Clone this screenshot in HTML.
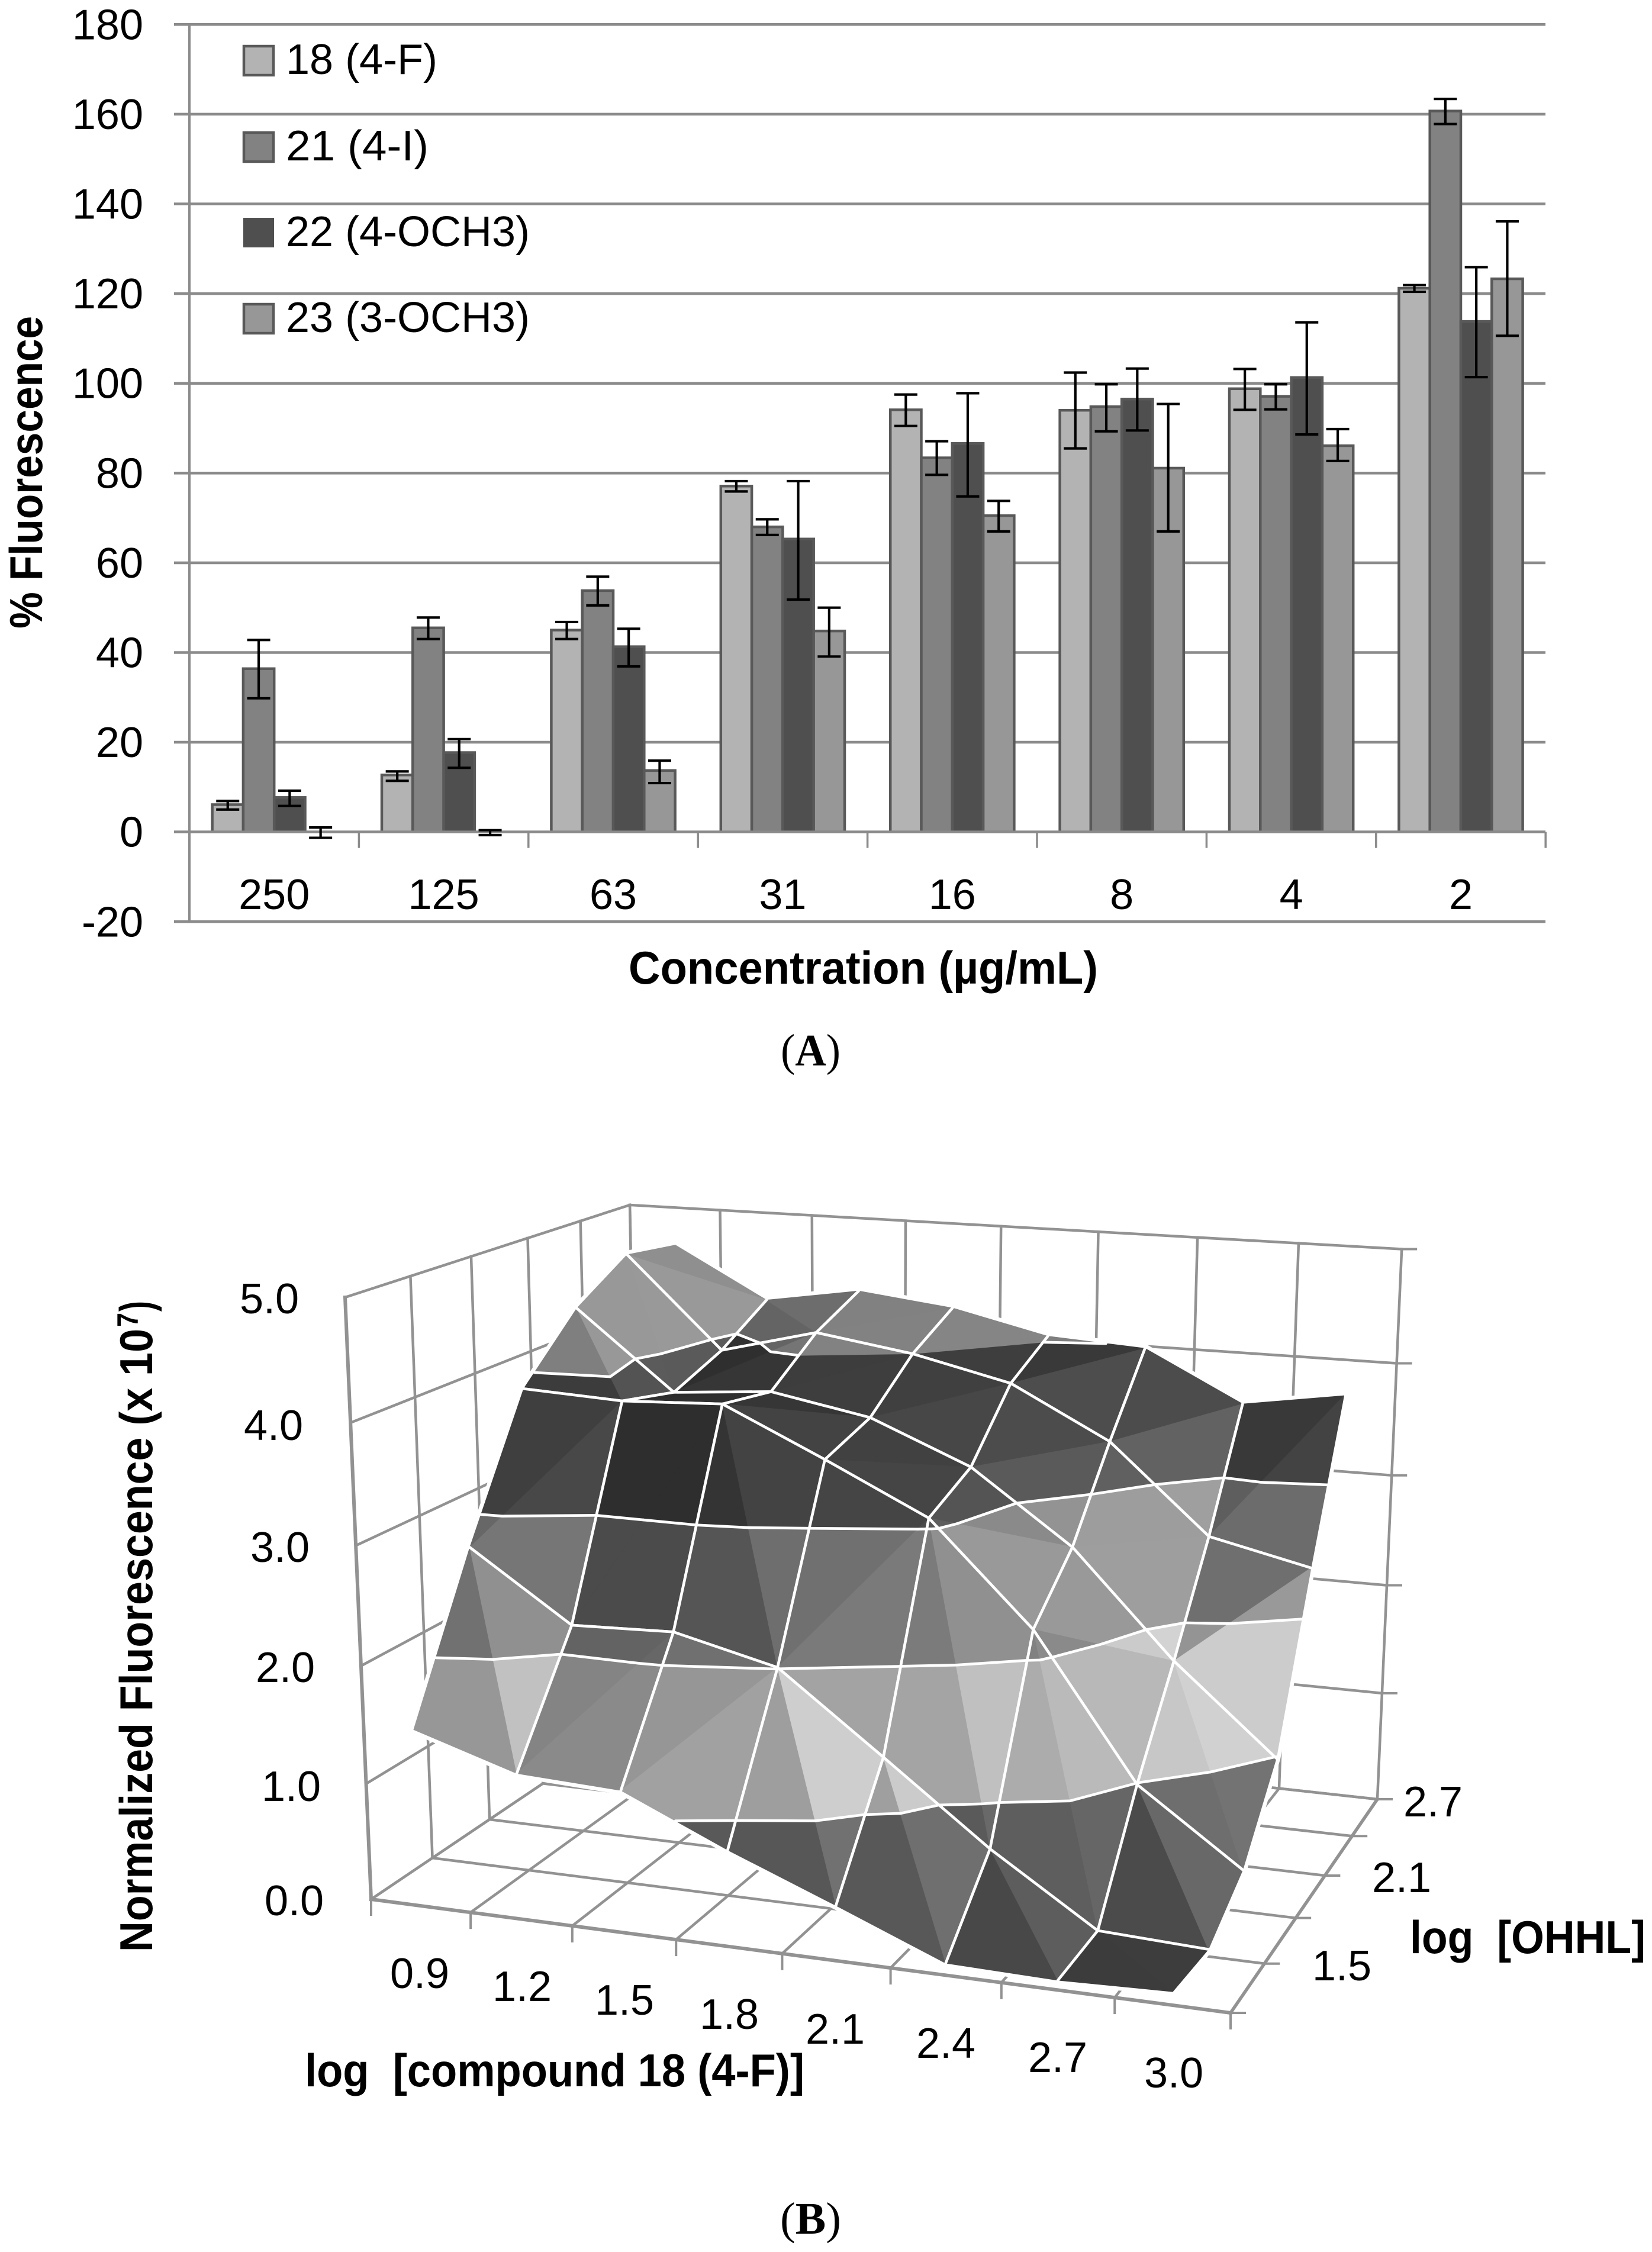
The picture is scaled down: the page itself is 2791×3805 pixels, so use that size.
<!DOCTYPE html>
<html lang="en">
<head>
<meta charset="utf-8">
<title>Fluorescence charts</title>
<style>
html,body{margin:0;padding:0;background:#fff;}
svg{display:block;}
text{font-family:"Liberation Sans",sans-serif;fill:#000;}
.t{font-size:72px;}
.b{font-size:78px;font-weight:bold;}
.s{font-family:"Liberation Serif",serif;font-size:76px;}
</style>
</head>
<body>
<svg id="fig" xmlns="http://www.w3.org/2000/svg" width="2791" height="3805" viewBox="0 0 2791 3805">
  <rect width="2791" height="3805" fill="#fff"/>
  <g id="barChart"></g>
  <g>
    <rect x="412" y="78" width="50" height="49" fill="#b3b3b3" stroke="#595959" stroke-width="4.5"/>
    <text class="t" x="483" y="125" textLength="256" lengthAdjust="spacingAndGlyphs">18 (4-F)</text>
    <rect x="412" y="224" width="50" height="49" fill="#828282" stroke="#595959" stroke-width="4.5"/>
    <text class="t" x="483" y="271" textLength="241" lengthAdjust="spacingAndGlyphs">21 (4-I)</text>
    <rect x="412" y="369" width="50" height="48" fill="#4f4f4f" stroke="#4f4f4f" stroke-width="2"/>
    <text class="t" x="483" y="416" textLength="412" lengthAdjust="spacingAndGlyphs">22 (4-OCH3)</text>
    <rect x="412" y="514" width="50" height="49" fill="#979797" stroke="#595959" stroke-width="4.5"/>
    <text class="t" x="483" y="561" textLength="412" lengthAdjust="spacingAndGlyphs">23 (3-OCH3)</text>
  </g>
  <text class="b" transform="translate(71,1062) rotate(-90)" textLength="528" lengthAdjust="spacingAndGlyphs">% Fluorescence</text>
  <text class="b" x="1062" y="1662" textLength="793" lengthAdjust="spacingAndGlyphs">Concentration (µg/mL)</text>
  <text class="s" x="1319" y="1800" textLength="101" lengthAdjust="spacingAndGlyphs">(<tspan font-weight="bold">A</tspan>)</text>

  <g id="surfaceChart"></g>

  <g>
    <text class="t" x="405" y="2219">5.0</text>
    <text class="t" x="412" y="2433">4.0</text>
    <text class="t" x="423" y="2639">3.0</text>
    <text class="t" x="432" y="2842">2.0</text>
    <text class="t" x="442" y="3043">1.0</text>
    <text class="t" x="447" y="3236">0.0</text>
  </g>
  <text class="b" transform="translate(257,3298) rotate(-90)" textLength="1053" lengthAdjust="spacingAndGlyphs">Normalized Fluorescence (x 10</text>
  <text class="b" style="font-size:50px" transform="translate(233,2242) rotate(-90)" textLength="24" lengthAdjust="spacingAndGlyphs">7</text>
  <text class="b" transform="translate(257,2216) rotate(-90)" textLength="18" lengthAdjust="spacingAndGlyphs">)</text>

  <g>
    <text class="t" x="659" y="3359">0.9</text>
    <text class="t" x="832" y="3381">1.2</text>
    <text class="t" x="1005" y="3404">1.5</text>
    <text class="t" x="1182" y="3428">1.8</text>
    <text class="t" x="1361" y="3453">2.1</text>
    <text class="t" x="1548" y="3477">2.4</text>
    <text class="t" x="1737" y="3501">2.7</text>
    <text class="t" x="1933" y="3527">3.0</text>
  </g>
  <g>
    <text class="t" x="2217" y="3346">1.5</text>
    <text class="t" x="2318" y="3197">2.1</text>
    <text class="t" x="2371" y="3069">2.7</text>
  </g>
  <text class="b" x="515" y="3525" textLength="844" lengthAdjust="spacingAndGlyphs">log&#160; [compound 18 (4-F)]</text>
  <text class="b" x="2382" y="3300" textLength="398" lengthAdjust="spacingAndGlyphs">log&#160; [OHHL]</text>
  <text class="s" x="1318" y="3774" textLength="103" lengthAdjust="spacingAndGlyphs">(<tspan font-weight="bold">B</tspan>)</text>
</svg>

<script>
// ---------- Chart A data ----------
const concentrations = ['250','125','63','31','16','8','4','2'];
const yTicks = [180,160,140,120,100,80,60,40,20,0,-20];
const seriesNames = ['18-4-f','21-4-i','22-4-och3','23-3-och3'];
const seriesFills = ['#b3b3b3','#828282','#4f4f4f','#979797'];
const values18 = [6.1,12.7,45,77.1,94.1,94.0,98.8,121.2];
const upper18  = [6.9,13.5,46.8,78.2,97.5,102.4,103.2,121.9];
const lower18  = [5,11.4,43,75.9,90.5,85.5,94.1,120.4];
const values21 = [36.4,45.5,53.8,68,83.4,94.8,97.1,160.7];
const upper21  = [42.8,47.8,56.9,69.7,87.1,99.8,99.8,163.4];
const lower21  = [29.8,43,50.5,66.2,79.6,89.3,94.2,157.8];
const values22 = [7.7,17.7,41.3,65.3,86.6,96.5,101.3,113.8];
const upper22  = [9.2,20.7,45.3,78.2,97.8,103.3,113.6,125.9];
const lower22  = [5.8,14.3,36.9,51.8,74.8,89.5,88.6,101.4];
const values23 = [0,0,13.7,44.8,70.5,81.1,86.1,123.3];
const upper23  = [1,0.4,15.9,50,73.8,95.4,89.8,136.1];
const lower23  = [-1.3,-0.7,10.9,39.1,67,67,82.7,110.6];

// ---------- Chart B data: fluorescence (x 10^7); rows front (log OHHL 1.2) to back (2.7), columns log compound 0.9 to 3.0 ----------
const surfaceRow12 = [1.51,1.24,1.20,0.81,0.46,0.10,0.08,0.11];
const surfaceRow15 = [2.77,2.19,2.22,2.01,1.35,0.68,0.10,0.06];
const surfaceRow18 = [3.90,3.86,3.90,3.50,3.08,2.22,0.99,0.36];
const surfaceRow21 = [4.41,3.73,3.80,3.64,3.28,2.66,1.75,0.99];
const surfaceRow24 = [4.72,3.91,4.13,4.00,3.80,3.35,2.58,2.38];
const surfaceRow27 = [4.65,4.19,4.33,4.23,4.03,3.98,3.54,3.68];

const NS = 'http://www.w3.org/2000/svg';
function mk(tag, attrs, parent){
  const el = document.createElementNS(NS, tag);
  for (const k in attrs) el.setAttribute(k, attrs[k]);
  parent.appendChild(el);
  return el;
}

// ---------- Chart A ----------
(function(){
  const g = document.getElementById('barChart');
  const gridColor = '#8b8b8b';
  const yScale = v => 41.3 + (180 - v) * 7.58;
  const catWidth = 286.4, plotLeft = 320, plotRight = 2611;
  const barWidth = 52.3;
  const catX = i => plotLeft + catWidth * i;

  yTicks.forEach(t => {
    const line = mk('line', {x1:294, x2:plotRight, y1:yScale(t), y2:yScale(t), stroke:gridColor, 'stroke-width':4.6}, g);
    
    
    const label = mk('text', {x:242, y:yScale(t)+25, 'text-anchor':'end', 'class':'t'}, g);
    
    
    label.textContent = t;
  });
  const axis = mk('line', {x1:plotLeft, x2:plotLeft, y1:yScale(180), y2:yScale(-20), stroke:gridColor, 'stroke-width':4}, g);
  
  

  for (let i = 1; i <= concentrations.length; i++) {
    const tick = mk('line', {x1:catX(i), x2:catX(i), y1:yScale(0), y2:yScale(0)+27, stroke:gridColor, 'stroke-width':3.5}, g);
    
    
  }

  const seriesValues = [values18, values21, values22, values23];
  const seriesUpper = [upper18, upper21, upper22, upper23];
  const seriesLower = [lower18, lower21, lower22, lower23];

  concentrations.forEach((c, i) => {
    const label = mk('text', {x:catX(i)+catWidth/2, y:1536, 'text-anchor':'middle', 'class':'t'}, g);
    
    
    label.textContent = c;
    const start = catX(i) + (catWidth - barWidth*4) / 2;
    seriesValues.forEach((vals, s) => {
      const y = yScale(vals[i]);
      const bar = mk('rect', {x:start+s*barWidth, y:y, width:barWidth, height:Math.max(0, yScale(0)-y), fill:seriesFills[s], stroke:'#595959', 'stroke-width':4.5}, g);
      
      
    });
  });
  const zero = mk('line', {x1:294, x2:plotRight, y1:yScale(0), y2:yScale(0), stroke:gridColor, 'stroke-width':4.6}, g);
  
  

  concentrations.forEach((c, i) => {
    const start = catX(i) + (catWidth - barWidth*4) / 2;
    seriesValues.forEach((vals, s) => {
      const cx = start + (s+0.5)*barWidth;
      const top = yScale(seriesUpper[s][i]), bot = yScale(seriesLower[s][i]);
      const err = mk('path', {d:`M${cx-19.5} ${top}H${cx+19.5}M${cx} ${top}V${bot}M${cx-19.5} ${bot}H${cx+19.5}`, fill:'none', stroke:'#000', 'stroke-width':4.2}, g);
      
      
    });
  });
})();

// ---------- Chart B ----------
(function(){
  const g = document.getElementById('surfaceChart');
  const rows = [surfaceRow12, surfaceRow15, surfaceRow18, surfaceRow21, surfaceRow24, surfaceRow27];
  const nCols = surfaceRow12.length, nRows = rows.length;
  const gridColor = '#929292';

  // perspective axis function: u in [0,8], v in [0,5], z in [0,5]
  function proj(u, v, z){
    const U = u/8, V = v/5, Z = z/5;
    const w = 1 - 0.08332*U + 0.18191*V - 0.05*Z;
    return [(627 + 1278.8*U + 650.6*V - 73.15*Z)/w,
            (3209 - 91.4*U + 222.1*V - 1126.6*Z)/w];
  }
  function wallLine(a, b, width, name){
    const p = proj(a[0],a[1],a[2]), q = proj(b[0],b[1],b[2]);
    const l = mk('line', {x1:p[0], y1:p[1], x2:q[0], y2:q[1], stroke:gridColor, 'stroke-width':width, 'stroke-linecap':'square'}, g);
    
    
  }
  for (let z = 0; z <= 5; z++) {
    wallLine([0,0,z],[0,5,z],4.5,'left-wall-gridline');
    wallLine([0,5,z],[8,5,z],4.5,'back-wall-gridline');
  }
  for (let v = 0; v <= 5; v++) {
    wallLine([0,v,0],[0,v,5],v===0?6:4.5,'left-wall-vertical');
    wallLine([0,v,0],[8,v,0],v===0?6:4.5,'floor-gridline');
  }
  for (let u = 0; u <= 8; u++) {
    wallLine([u,5,0],[u,5,5],4.5,'back-wall-vertical');
    wallLine([u,0,0],[u,5,0],u===8?5.5:4.5,'floor-gridline');
    const p = proj(u,0,0);
    const t = mk('line', {x1:p[0], x2:p[0], y1:p[1], y2:p[1]+28, stroke:gridColor, 'stroke-width':4}, g);
    
    
  }
  for (let v = 0; v <= 5; v++) {
    const p = proj(8,v,0);
    const t = mk('line', {x1:p[0], x2:p[0]+26, y1:p[1], y2:p[1], stroke:gridColor, 'stroke-width':4}, g);
    
    
  }
  for (let z = 1; z <= 5; z++) {
    const p = proj(8,5,z);
    const t = mk('line', {x1:p[0], x2:p[0]+26, y1:p[1], y2:p[1], stroke:gridColor, 'stroke-width':4}, g);
    
    
  }

  const node = (j,i) => [i+0.5, j, rows[j][i]];
  const P = n => proj(n[0],n[1],n[2]);
  const pts = poly => poly.map(n => { const p = P(n); return p[0].toFixed(1)+','+p[1].toFixed(1); }).join(' ');

  function trianglesOf(j,i){
    const a=node(j,i), b=node(j,i+1), c=node(j+1,i+1), d=node(j+1,i);
    // diagonal joins the corner pair with the larger sum
    if (a[2]+c[2] >= b[2]+d[2]) return [[a,d,c],[a,b,c]];
    return [[a,b,d],[b,c,d]];
  }

  // white halo behind the surface
  let halo = '';
  for (let j=0;j<nRows-1;j++) for (let i=0;i<nCols-1;i++)
    trianglesOf(j,i).forEach(t => { halo += 'M'+pts(t).replace(/ /g,'L')+'Z'; });
  const haloEl = mk('path', {d:halo, fill:'#fff', stroke:'#fff', 'stroke-width':14, 'stroke-linejoin':'round'}, g);
  
  

  function clip(poly, f){
    const out = [];
    for (let k=0;k<poly.length;k++){
      const a = poly[k], b = poly[(k+1)%poly.length];
      const fa = f(a), fb = f(b);
      if (fa >= 0) out.push(a);
      if ((fa >= 0) !== (fb >= 0)) {
        const t = fa/(fa-fb);
        out.push([a[0]+(b[0]-a[0])*t, a[1]+(b[1]-a[1])*t, a[2]+(b[2]-a[2])*t]);
      }
    }
    return out;
  }
  const bandFactor = [0.55, 1, 0.75, 0.46];
  function shade(tri, band){
    const e1 = [tri[1][0]-tri[0][0], tri[1][1]-tri[0][1], tri[1][2]-tri[0][2]];
    const e2 = [tri[2][0]-tri[0][0], tri[2][1]-tri[0][1], tri[2][2]-tri[0][2]];
    const nx = e1[1]*e2[2]-e1[2]*e2[1], ny = e1[2]*e2[0]-e1[0]*e2[2], nz = e1[0]*e2[1]-e1[1]*e2[0];
    const x = nx/nz, y = -ny/nz;
    let c;
    if (band === 4) {
      c = x < 0 ? 125 + 115*x : 125 + 40*Math.min(x,0.7);
    } else {
      let I;
      if (x <= 0.4) I = 135 + 70*x;
      else if (x <= 0.7) I = 163 + (x-0.4)*167;
      else if (x <= 0.9) I = 213;
      else I = 213 - (x-0.9)*80;
      if (y > 1.1) I -= 110*(y-1.1)*(y-1.1);
      else I -= 20*(y-1.1)*(y-1.1);
      I = Math.max(100, Math.min(220, I));
      c = I*bandFactor[band];
    }
    c = Math.round(c);
    return 'rgb('+c+','+c+','+c+')';
  }
  function whiteLine(a, b, name){
    const p = P(a), q = P(b);
    const l = mk('line', {x1:p[0], y1:p[1], x2:q[0], y2:q[1], stroke:'#fff', 'stroke-width':4.6, 'stroke-linecap':'round'}, g);
    
    
  }

  for (let j=nRows-2;j>=0;j--) {
    for (let i=0;i<nCols-1;i++) {
      const tris = trianglesOf(j,i);
      tris.forEach(tri => {
        for (let band=0;band<5;band++){
          let poly = clip(tri, n => n[2]-band);
          if (poly.length>=3) poly = clip(poly, n => (band+1)-n[2]);
          if (poly.length<3) continue;
          const col = shade(tri, band);
          const f = mk('polygon', {points:pts(poly), fill:col, stroke:col, 'stroke-width':1, 'stroke-linejoin':'round'}, g);
          
          
        }
      });
      tris.forEach(tri => {
        for (let level=1;level<=4;level++){
          const hits = [];
          for (let k=0;k<3;k++){
            const a=tri[k], b=tri[(k+1)%3];
            if ((a[2]-level)*(b[2]-level) < 0){
              const t=(level-a[2])/(b[2]-a[2]);
              hits.push([a[0]+(b[0]-a[0])*t, a[1]+(b[1]-a[1])*t, level]);
            }
          }
          if (hits.length===2) whiteLine(hits[0],hits[1],'surface-contour');
        }
      });
      if (j>0) whiteLine(node(j,i),node(j,i+1),'surface-row-line');
      if (j+1<nRows-1) whiteLine(node(j+1,i),node(j+1,i+1),'surface-row-line');
      if (i>0) whiteLine(node(j,i),node(j+1,i),'surface-column-line');
      if (i+1<nCols-1) whiteLine(node(j,i+1),node(j+1,i+1),'surface-column-line');
    }
  }
})();
</script>
</body>
</html>
